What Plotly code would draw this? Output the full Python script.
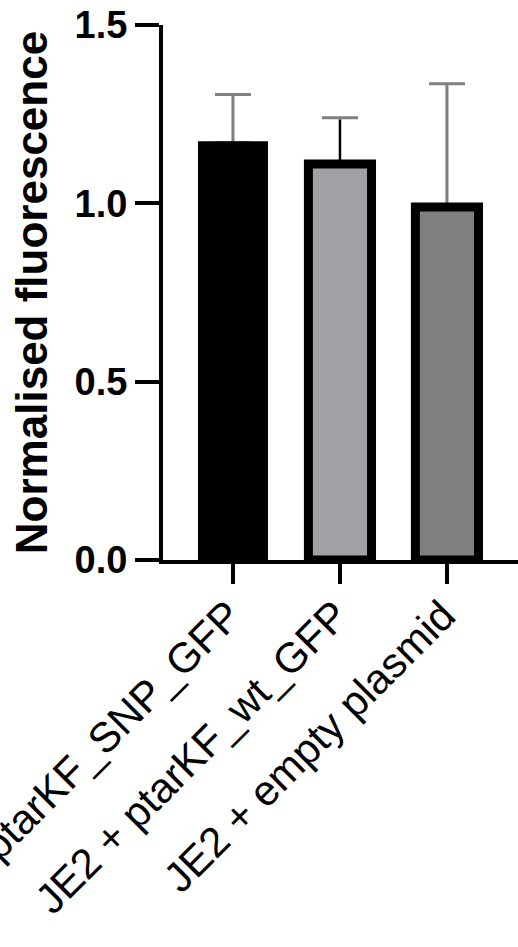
import plotly.graph_objects as go

categories = ["JE2 + ptarKF_SNP_GFP", "JE2 + ptarKF_wt_GFP", "JE2 + empty plasmid"]
means = [1.17, 1.11, 0.99]
errors = [0.135, 0.13, 0.345]
y_ticks = [0.0, 0.5, 1.0, 1.5]
y_title = "Normalised fluorescence"

fill_colors = ["#000000", "#a1a1a5", "#808080"]
line_colors = ["#000000", "#000000", "#000000"]
line_widths = [3, 9, 9]
bar_widths = [0.626, 0.59, 0.59]

font_family = "Arial, Liberation Sans, sans-serif"

fig = go.Figure()
# upper-only error bars, drawn first so the bars hide their lower caps
for i in range(len(categories)):
    fig.add_trace(go.Bar(
        x=[categories[i]], y=[means[i]], width=[0.3],
        marker=dict(color="rgba(0,0,0,0)", line=dict(width=0)),
        error_y=dict(type="data", symmetric=False, array=[errors[i]], arrayminus=[0],
                     color="#808080", thickness=3, width=18),
        showlegend=False, hoverinfo="skip",
    ))
fig.add_trace(go.Bar(
    x=categories, y=means, width=bar_widths,
    marker=dict(color=fill_colors, line=dict(color=line_colors, width=line_widths)),
    showlegend=False,
))
# black stem over the grey cap for the middle bar
fig.add_trace(go.Scatter(
    x=[categories[1]], y=[means[1]], mode="lines", showlegend=False,
    error_y=dict(type="data", symmetric=False, array=[errors[1] - 0.006], arrayminus=[0],
                 color="#000000", thickness=2, width=0),
))

fig.update_layout(
    width=518, height=947,
    margin=dict(l=163, r=0, t=25, b=387, autoexpand=False),
    plot_bgcolor="white", paper_bgcolor="white",
    font=dict(family=font_family, color="black"),
    barmode="overlay",
)
fig.update_xaxes(
    range=[-0.654, 2.664], showline=True, linecolor="black", linewidth=4,
    ticks="outside", ticklen=20, tickwidth=4, tickcolor="black",
    tickangle=-45, tickfont=dict(size=42, family=font_family),
    ticklabelstandoff=-10, ticklabelshift=-4, ticklabeloverflow="allow",
    showgrid=False, zeroline=False, automargin=False,
)
fig.update_yaxes(
    range=[0, 1.5], tickvals=y_ticks, tickformat=".1f",
    showline=True, linecolor="black", linewidth=4,
    ticks="outside", ticklen=24, tickwidth=4, tickcolor="black",
    tickfont=dict(size=38, family=font_family, weight="bold"),
    ticklabeloverflow="allow",
    title=dict(text=y_title, font=dict(size=44, family=font_family, weight="bold"), standoff=14),
    showgrid=False, zeroline=False, automargin=False,
)

fig.write_html(
    "out.html",
    config={"displayModeBar": False},
    post_script="document.body.style.margin='0';document.body.style.overflow='hidden';",
)
